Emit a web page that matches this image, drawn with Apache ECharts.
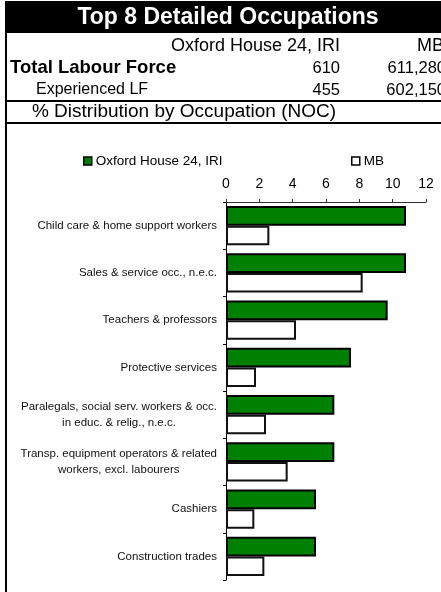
<!DOCTYPE html>
<html>
<head>
<meta charset="utf-8">
<script src="https://cdn.jsdelivr.net/npm/echarts@6/dist/echarts.min.js"></script>
<style>
  html, body { margin: 0; padding: 0; background: #fff; }
  #main { width: 441px; height: 592px; }
</style>
</head>
<body>
<div id="main"></div>
<script>
// occupations, top to bottom
const categories = [
  'Child care & home support workers',
  'Sales & service occ., n.e.c.',
  'Teachers & professors',
  'Protective services',
  'Paralegals, social serv. workers & occ.\nin educ. & relig., n.e.c.',
  'Transp. equipment operators & related\nworkers, excl. labourers',
  'Cashiers',
  'Construction trades'
]
const oxfordValues = [10.8, 10.8, 9.7, 7.5, 6.5, 6.5, 5.4, 5.4]
const mbValues = [2.6, 8.2, 4.2, 1.8, 2.4, 3.7, 1.7, 2.3]
const xTicks = [0, 2, 4, 6, 8, 10, 12]

// header table
const areaNames = ['Oxford House 24, IRI', 'MB']
const totalLabourForce = ['610', '611,280']
const experiencedLF = ['455', '602,150']

const FONT = '"Liberation Sans", Arial, sans-serif'
const GREEN = '#008000'

const chart = echarts.init(document.getElementById('main'))

const txt = (text, x, y, align, size, weight, color) => ({
  type: 'text',
  x: x,
  y: y,
  style: {
    text: text,
    align: align,
    verticalAlign: 'middle',
    font: (weight || 'normal') + ' ' + size + 'px ' + FONT,
    fill: color || '#000'
  },
  z: 10
})

const hline = (y) => ({
  type: 'rect',
  shape: { x: 5, y: y, width: 436, height: 2 },
  style: { fill: '#000' },
  z: 10
})

const legendItem = (name, left) => ({
  data: [name],
  left: left,
  top: 154,
  padding: 0,
  itemWidth: 8,
  itemHeight: 8,
  icon: 'rect',
  itemStyle: { borderColor: '#000', borderWidth: 1.5 },
  textStyle: { fontSize: 13.5, color: '#000', fontFamily: FONT, padding: [0, 0, 0, -1] }
})

const option = {
  animation: false,
  textStyle: { fontFamily: FONT },
  grid: {
    left: 226,
    right: 15,
    top: 202,
    bottom: 12,
    containLabel: false
  },
  legend: [legendItem(areaNames[0], 83), legendItem(areaNames[1], 351)],
  xAxis: {
    type: 'value',
    position: 'top',
    min: xTicks[0],
    max: xTicks[xTicks.length - 1],
    interval: xTicks[1] - xTicks[0],
    splitLine: { show: false },
    axisLine: { show: true, lineStyle: { color: '#333', width: 1 } },
    axisTick: { show: true, inside: false, length: 3, lineStyle: { color: '#333' } },
    axisLabel: { fontSize: 14, color: '#000', margin: 11, fontFamily: FONT }
  },
  yAxis: {
    type: 'category',
    inverse: true,
    data: categories,
    axisLine: { show: true, lineStyle: { color: '#000', width: 1 } },
    axisTick: { show: true, inside: false, length: 3, lineStyle: { color: '#000' } },
    axisLabel: {
      fontSize: 11.5,
      color: '#111',
      margin: 9,
      lineHeight: 16,
      fontFamily: FONT,
      formatter: (v) => v.split('\n').map(s => '{c|' + s + '}').join('\n'),
      rich: {
        c: { align: 'center', fontSize: 11.5, color: '#111', lineHeight: 16, fontFamily: FONT }
      }
    }
  },
  series: [
    {
      name: areaNames[0],
      type: 'bar',
      data: oxfordValues,
      barCategoryGap: '17%',
      barGap: '0%',
      itemStyle: { color: GREEN, borderColor: '#000', borderWidth: 2 }
    },
    {
      name: areaNames[1],
      type: 'bar',
      data: mbValues,
      barCategoryGap: '17%',
      barGap: '0%',
      itemStyle: { color: '#fff', borderColor: '#111', borderWidth: 2 }
    }
  ],
  graphic: [
    // title band
    { type: 'rect', shape: { x: 5, y: 1, width: 436, height: 32 }, style: { fill: '#000' }, z: 9 },
    // left border
    { type: 'rect', shape: { x: 5, y: 1, width: 2, height: 591 }, style: { fill: '#000' }, z: 10 },
    txt('Top 8 Detailed Occupations', 228, 18, 'center', 23, 'bold', '#fff'),
    txt(areaNames[0], 340, 46, 'right', 18),
    txt(areaNames[1], 444, 46, 'right', 18),
    txt('Total Labour Force', 10, 68, 'left', 18.5, 'bold'),
    txt(totalLabourForce[0], 340, 68, 'right', 16.5),
    txt(totalLabourForce[1], 446, 68, 'right', 16.5),
    txt('Experienced LF', 36, 90, 'left', 16),
    txt(experiencedLF[0], 340, 90, 'right', 16.5),
    txt(experiencedLF[1], 446, 90, 'right', 16.5),
    hline(100),
    txt('% Distribution by Occupation (NOC)', 184, 112, 'center', 19),
    hline(122)
  ]
}

chart.setOption(option)
</script>
</body>
</html>
